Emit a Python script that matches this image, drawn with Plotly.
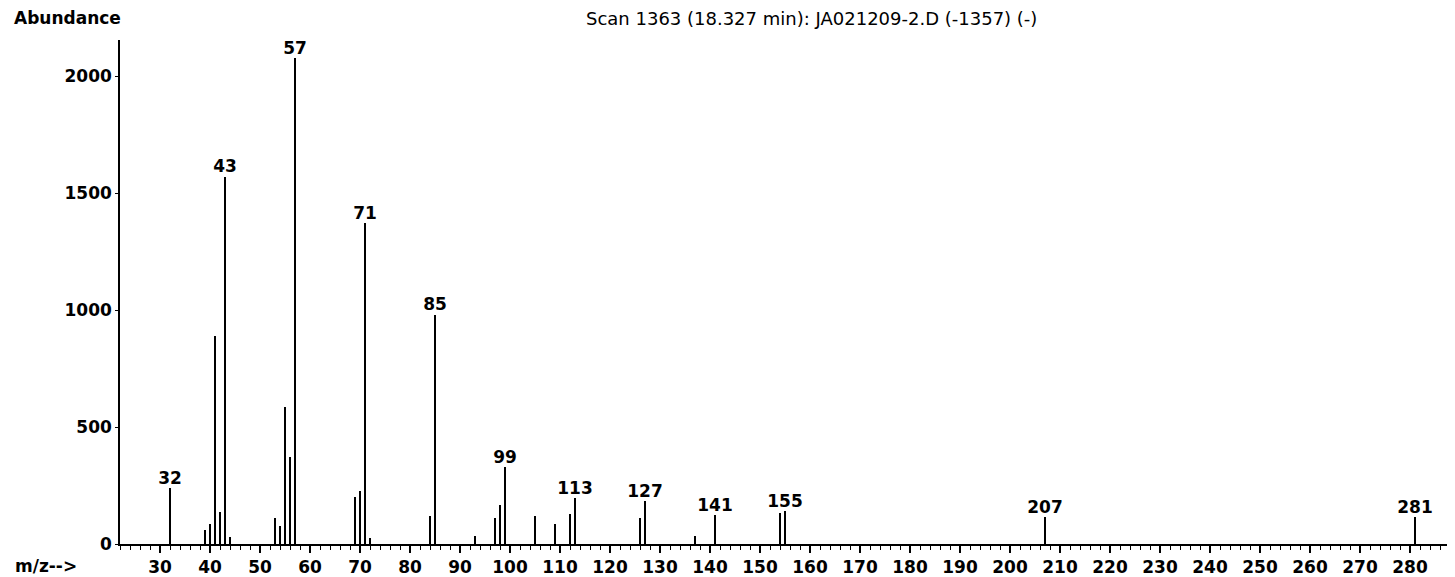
import plotly.graph_objects as go

# m/z values and abundances
mz = [32, 39, 40, 41, 42, 43, 44, 53, 54, 55, 56, 57, 69, 70, 71, 72,
      84, 85, 93, 97, 98, 99, 105, 109, 112, 113, 126, 127, 137, 141,
      154, 155, 207, 281]
abundance = [240, 60, 85, 890, 135, 1570, 30, 110, 75, 585, 370, 2077, 200, 225, 1370, 25,
             120, 980, 35, 110, 165, 330, 120, 85, 130, 196, 110, 184, 35, 124,
             132, 141, 115, 115]

labeled_mz = [32, 43, 57, 71, 85, 99, 113, 127, 141, 155, 207, 281]

x_ticks = list(range(30, 290, 10))
y_ticks = [0, 500, 1000, 1500, 2000]

title_text = "Scan 1363 (18.327 min): JA021209-2.D (-1357) (-)"

BOLD = "DejaVu Sans, Arial, sans-serif"

lab_y = [abundance[mz.index(m)] for m in labeled_mz]

# page body has an 8px default margin; figure sized to fit inside the window
W, H = 1447, 569
L, R, T, B = 112, 3, 32, 33
plot_w = W - L - R

fig = go.Figure()
fig.add_trace(go.Bar(
    x=mz, y=abundance, width=0.35,
    marker=dict(color="black", line=dict(width=0)),
    hoverinfo="x+y", showlegend=False,
))
fig.add_trace(go.Scatter(
    x=labeled_mz, y=lab_y, mode="text",
    text=[str(m) for m in labeled_mz], textposition="top center",
    textfont=dict(family=BOLD, size=17, color="black", weight="bold"),
    cliponaxis=False, showlegend=False, hoverinfo="skip",
))

fig.update_layout(
    width=W, height=H,
    margin=dict(l=L, r=R, t=T, b=B, autoexpand=False),
    plot_bgcolor="white", paper_bgcolor="white",
    bargap=0,
    xaxis=dict(
        range=[22, 22 + plot_w / 5.0], showgrid=False, zeroline=False, automargin=False,
        showline=True, linecolor="black", linewidth=2,
        tickvals=x_ticks, ticks="outside", ticklen=7, tickwidth=1.5, tickcolor="black",
        tickfont=dict(family=BOLD, size=17, color="black", weight="bold"),
        minor=dict(dtick=2, tick0=0, ticks="outside", ticklen=4, tickcolor="black", tickwidth=1),
    ),
    yaxis=dict(
        range=[0, 2154], showgrid=False, zeroline=False, automargin=False,
        showline=True, linecolor="black", linewidth=1.5,
        tickvals=y_ticks, ticks="outside", ticklen=3, tickcolor="black",
        tickfont=dict(family=BOLD, size=17, color="black", weight="bold"),
    ),
    annotations=[
        dict(text="Abundance", xref="paper", yref="paper", x=0, xshift=-108, y=1.0, yshift=22,
             xanchor="left", yanchor="middle", showarrow=False,
             font=dict(family=BOLD, size=17, color="black", weight="bold")),
        dict(text="m/z-->", xref="paper", yref="paper", x=0, xshift=-107, y=0, yshift=-22,
             xanchor="left", yanchor="middle", showarrow=False,
             font=dict(family=BOLD, size=17, color="black", weight="bold")),
        dict(text=title_text, xref="paper", yref="paper", x=(804 - L) / plot_w, y=1.0, yshift=22,
             xanchor="center", yanchor="middle", showarrow=False,
             font=dict(family=BOLD, size=18, color="black")),
    ],
)

fig.write_html("out.html")
